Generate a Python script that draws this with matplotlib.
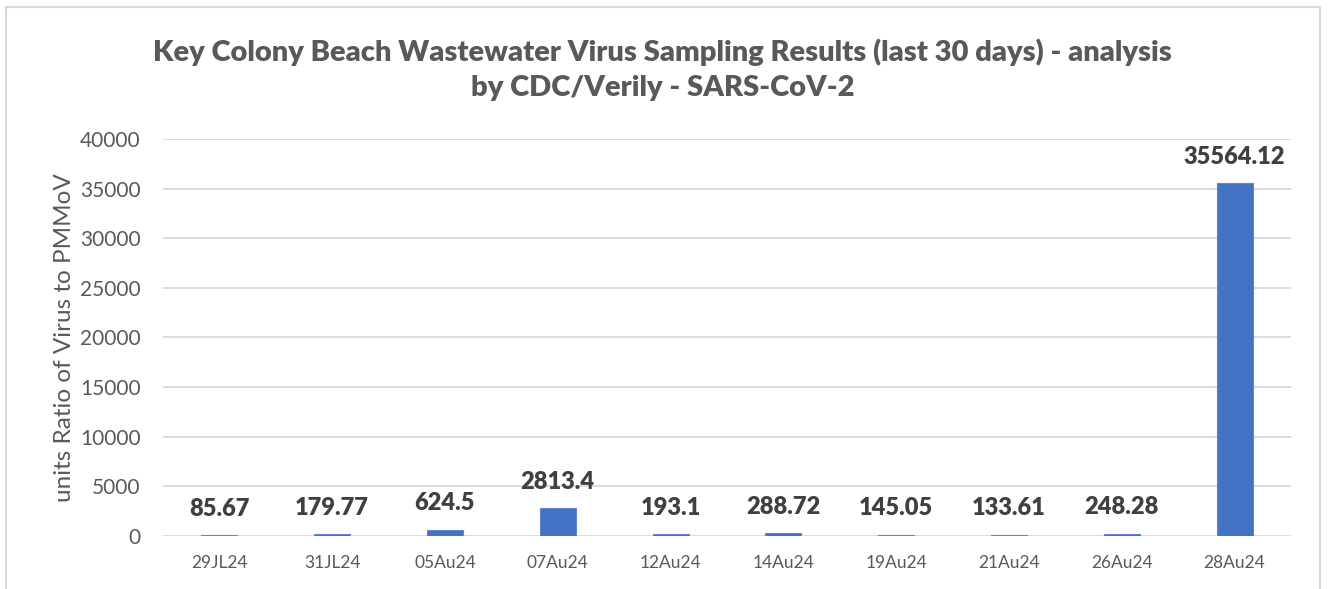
import matplotlib.pyplot as plt
from matplotlib.patches import Rectangle

# данные с графика
dates = ['29JL24', '31JL24', '05Au24', '07Au24', '12Au24',
         '14Au24', '19Au24', '21Au24', '26Au24', '28Au24']
values = [85.67, 179.77, 624.5, 2813.4, 193.1,
          288.72, 145.05, 133.61, 248.28, 35564.12]
labels = ['85.67', '179.77', '624.5', '2813.4', '193.1',
          '288.72', '145.05', '133.61', '248.28', '35564.12']
yticks = [0, 5000, 10000, 15000, 20000, 25000, 30000, 35000, 40000]

plt.rcParams['font.family'] = ['Lato', 'DejaVu Sans']
grey = '#595959'

fig = plt.figure(figsize=(13.29, 5.89), dpi=100)
ax = fig.add_axes([0.1226, 0.090, 0.8488, 0.674])

# рамка вокруг диаграммы
fig.patches.append(Rectangle((6 / 1329, -0.05), 1314 / 1329, 1.05 - 7 / 589,
                             transform=fig.transFigure, fill=False,
                             edgecolor='#D9D9D9', linewidth=1.5))

x = range(len(dates))
bars = ax.bar(x, values, width=0.32, color='#4472C4', edgecolor='#5B87D6',
              linewidth=0.8, zorder=3)

for i, (v, t) in enumerate(zip(values, labels)):
    ax.annotate(t, (i, v), xytext=(0, 14), textcoords='offset points',
                ha='center', va='baseline', fontsize=17, fontweight='heavy',
                color='#404040')

ax.set_xlim(-0.5, len(dates) - 0.5)
ax.set_ylim(0, 40000)
ax.set_yticks(yticks)
ax.set_yticklabels([str(t) for t in yticks])
ax.set_xticks(list(x))
ax.set_xticklabels(dates)
ax.grid(axis='y', color='#D9D9D9', linewidth=1.3, zorder=0)
for s in ax.spines.values():
    s.set_visible(False)
ax.tick_params(axis='y', length=0, pad=16, labelsize=15, labelcolor=grey)
ax.tick_params(axis='x', length=0, pad=14, labelsize=12.5, labelcolor=grey)

ax.set_ylabel('units Ratio of Virus to PMMoV', fontsize=17.5, color=grey,
              labelpad=4)

fig.text(0.4985, 0.882,
         'Key Colony Beach Wastewater Virus Sampling Results (last 30 days) - analysis\nby CDC/Verily - SARS-CoV-2',
         ha='center', va='center', fontsize=21, fontweight='heavy', color=grey,
         linespacing=1.42)

fig.savefig('out.png', dpi=100)
